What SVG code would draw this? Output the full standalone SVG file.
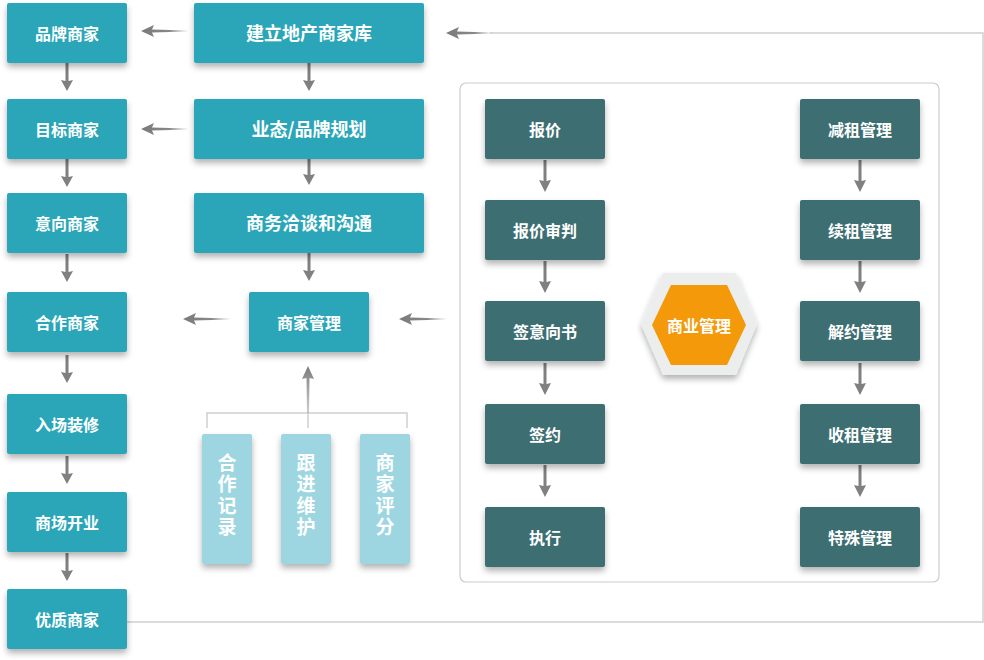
<svg xmlns="http://www.w3.org/2000/svg" xmlns:xlink="http://www.w3.org/1999/xlink" width="984" height="660" viewBox="0 0 984 660">
<style>
.t{fill:#2AA6B8}
.d{fill:#3C6E72}
.l{fill:#9DD6E0}
.lbl{font-family:"Noto Sans CJK SC","Noto Sans",sans-serif;font-weight:bold;fill:#fff;text-anchor:middle;dominant-baseline:central}
.s16{font-size:16px}
.s18{font-size:18px}
.vt{font-family:"Noto Sans CJK SC","Noto Sans",sans-serif;font-weight:bold;fill:#fff;text-anchor:middle;font-size:19px;writing-mode:vertical-rl;letter-spacing:2.5px}
.ln{fill:none;stroke:#cfcfcf;stroke-width:1.5}
.ar{fill:#808080}
</style>
<defs>
<filter id="sh" x="-20%" y="-20%" width="140%" height="160%">
<feDropShadow dx="0" dy="4" stdDeviation="3" flood-color="#000" flood-opacity="0.3"/>
</filter>
<linearGradient id="gl" x1="0" y1="0" x2="1" y2="0">
<stop offset="0" stop-color="#7a7a7a"/>
<stop offset="0.6" stop-color="#888"/>
<stop offset="1" stop-color="#888" stop-opacity="0.1"/>
</linearGradient>
<linearGradient id="gu" x1="0" y1="0" x2="0" y2="1">
<stop offset="0" stop-color="#7a7a7a"/>
<stop offset="1" stop-color="#999" stop-opacity="0.5"/>
</linearGradient>
<path id="aL" d="M0,0 L13,-6 L11,-1.5 L47,-0.6 L47,0.6 L11,1.5 L13,6 Z" fill="url(#gl)"/>
<path id="aD" d="M-1.5,-28 L1.5,-28 L1.5,-10 L6,-11 L0,0 L-6,-11 L-1.5,-10 Z" class="ar"/>
<path id="aD2" d="M-1.5,-32 L1.5,-32 L1.5,-11 L6,-12 L0,0 L-6,-12 L-1.5,-11 Z" class="ar"/>
</defs>

<g id="connectors">
<path class="ln" d="M127,622 H983 V33 H490"/>
<use xlink:href="#aL" x="446" y="33"/>
<use xlink:href="#aL" x="141" y="31"/>
<use xlink:href="#aL" x="141" y="129"/>
<use xlink:href="#aL" x="183" y="319"/>
<use xlink:href="#aL" x="399" y="319"/>
<use xlink:href="#aD" x="67" y="91"/>
<use xlink:href="#aD" x="67" y="187"/>
<use xlink:href="#aD" x="67" y="282"/>
<use xlink:href="#aD" x="67" y="383"/>
<use xlink:href="#aD" x="67" y="484"/>
<use xlink:href="#aD" x="67" y="581"/>
<use xlink:href="#aD" x="309" y="91"/>
<use xlink:href="#aD" x="309" y="185"/>
<use xlink:href="#aD" x="309" y="281"/>
<path class="ln" d="M207,428 V413 H407 V428 M308,413 V428"/>
<path d="M308,366 L314,379 L309.5,378 L309,413 L307,413 L306.5,378 L302,379 Z" fill="url(#gu)"/>
<use xlink:href="#aD2" x="545" y="192"/>
<use xlink:href="#aD2" x="545" y="293"/>
<use xlink:href="#aD2" x="545" y="395"/>
<use xlink:href="#aD2" x="545" y="497"/>
<use xlink:href="#aD2" x="860" y="192"/>
<use xlink:href="#aD2" x="860" y="293"/>
<use xlink:href="#aD2" x="860" y="395"/>
<use xlink:href="#aD2" x="860" y="497"/>
</g>

<rect id="container" x="460" y="83" width="479" height="499" rx="6" fill="none" stroke="#cccccc" stroke-width="1.2"/>

<g id="n-pinpai"><rect class="t" x="7" y="3" width="120" height="60" rx="2" filter="url(#sh)"/><text class="lbl s16" x="67" y="33">品牌商家</text></g>
<g id="n-mubiao"><rect class="t" x="7" y="99" width="120" height="60" rx="2" filter="url(#sh)"/><text class="lbl s16" x="67" y="129">目标商家</text></g>
<g id="n-yixiang"><rect class="t" x="7" y="193" width="120" height="60" rx="2" filter="url(#sh)"/><text class="lbl s16" x="67" y="223">意向商家</text></g>
<g id="n-hezuo"><rect class="t" x="7" y="292" width="120" height="60" rx="2" filter="url(#sh)"/><text class="lbl s16" x="67" y="322">合作商家</text></g>
<g id="n-ruchang"><rect class="t" x="7" y="394" width="120" height="60" rx="2" filter="url(#sh)"/><text class="lbl s16" x="67" y="424">入场装修</text></g>
<g id="n-kaiye"><rect class="t" x="7" y="492" width="120" height="60" rx="2" filter="url(#sh)"/><text class="lbl s16" x="67" y="522">商场开业</text></g>
<g id="n-youzhi"><rect class="t" x="7" y="589" width="120" height="60" rx="2" filter="url(#sh)"/><text class="lbl s16" x="67" y="619">优质商家</text></g>

<g id="n-jianli"><rect class="t" x="194" y="3" width="230" height="60" rx="2" filter="url(#sh)"/><text class="lbl s18" x="309" y="32">建立地产商家库</text></g>
<g id="n-yetai"><rect class="t" x="194" y="99" width="230" height="60" rx="2" filter="url(#sh)"/><text class="lbl s18" x="309" y="128">业态/品牌规划</text></g>
<g id="n-shangwu"><rect class="t" x="194" y="193" width="230" height="60" rx="2" filter="url(#sh)"/><text class="lbl s18" x="309" y="222">商务洽谈和沟通</text></g>
<g id="n-guanli"><rect class="t" x="249" y="292" width="120" height="60" rx="2" filter="url(#sh)"/><text class="lbl s16" x="309" y="322">商家管理</text></g>

<g id="n-jilu"><rect class="l" x="202" y="434" width="50" height="130" rx="2" filter="url(#sh)"/><text class="vt" x="227" y="496">合作记录</text></g>
<g id="n-genjin"><rect class="l" x="281" y="434" width="50" height="130" rx="2" filter="url(#sh)"/><text class="vt" x="306" y="496">跟进维护</text></g>
<g id="n-pingfen"><rect class="l" x="360" y="434" width="50" height="130" rx="2" filter="url(#sh)"/><text class="vt" x="385" y="496">商家评分</text></g>

<g id="n-baojia"><rect class="d" x="485" y="99" width="120" height="60" rx="2" filter="url(#sh)"/><text class="lbl s16" x="545" y="129">报价</text></g>
<g id="n-shenpan"><rect class="d" x="485" y="200" width="120" height="60" rx="2" filter="url(#sh)"/><text class="lbl s16" x="545" y="230">报价审判</text></g>
<g id="n-yixiangshu"><rect class="d" x="485" y="301" width="120" height="60" rx="2" filter="url(#sh)"/><text class="lbl s16" x="545" y="331">签意向书</text></g>
<g id="n-qianyue"><rect class="d" x="485" y="404" width="120" height="60" rx="2" filter="url(#sh)"/><text class="lbl s16" x="545" y="434">签约</text></g>
<g id="n-zhixing"><rect class="d" x="485" y="507" width="120" height="60" rx="2" filter="url(#sh)"/><text class="lbl s16" x="545" y="537">执行</text></g>

<g id="n-jianzu"><rect class="d" x="800" y="99" width="120" height="60" rx="2" filter="url(#sh)"/><text class="lbl s16" x="860" y="129">减租管理</text></g>
<g id="n-xuzu"><rect class="d" x="800" y="200" width="120" height="60" rx="2" filter="url(#sh)"/><text class="lbl s16" x="860" y="230">续租管理</text></g>
<g id="n-jieyue"><rect class="d" x="800" y="301" width="120" height="60" rx="2" filter="url(#sh)"/><text class="lbl s16" x="860" y="331">解约管理</text></g>
<g id="n-shouzu"><rect class="d" x="800" y="404" width="120" height="60" rx="2" filter="url(#sh)"/><text class="lbl s16" x="860" y="434">收租管理</text></g>
<g id="n-teshu"><rect class="d" x="800" y="507" width="120" height="60" rx="2" filter="url(#sh)"/><text class="lbl s16" x="860" y="537">特殊管理</text></g>

<g id="n-shangye">
<polygon points="641,324 663,273 736,273 757,324 736,375 663,375" fill="#eceeee" filter="url(#sh)"/>
<polygon points="652,325 671,285 727,285 746,325 727,365 671,365" fill="#F3990A"/>
<text class="lbl s16" x="699" y="325">商业管理</text>
</g>
</svg>
